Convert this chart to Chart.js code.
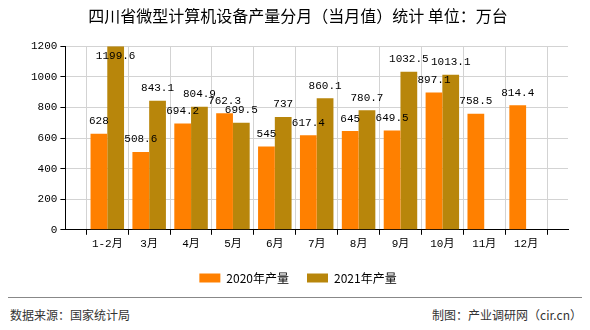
<!DOCTYPE html>
<html>
<head>
<meta charset="utf-8">
<script src="https://cdn.jsdelivr.net/npm/chart.js@4.4.0/dist/chart.umd.min.js"></script>
<style>
  body { margin: 0; background: #fff; }
  #wrap { width: 590px; height: 330px; position: relative; font-family: "Noto Sans CJK SC", sans-serif; }
  #box { width: 590px; height: 294px; }
  #foot { position: absolute; left: 8px; top: 297px; width: 574px; border-top: 1px solid #888; font-size: 12px; color: #333; }
  #foot span { position: absolute; top: 8px; }
</style>
</head>
<body>
<div id="wrap">
  <div id="box"><canvas id="chart"></canvas></div>
  <div id="foot"><span style="left:2px">数据来源：国家统计局</span><span style="right:0">制图：产业调研网（cir.cn）</span></div>
</div>
<script>
// months, padded with an empty slot on each side like the original axis
const months = ['', '1-2月', '3月', '4月', '5月', '6月', '7月', '8月', '9月', '10月', '11月', '12月', '']
const output2020 = [null, 628, 508.6, 694.2, 762.3, 545, 617.4, 645, 649.5, 897.1, 758.5, 814.4, null]
const output2021 = [null, 1199.6, 843.1, 804.9, 699.5, 737, 860.1, 780.7, 1032.5, 1013.1, null, null, null]
const yTicks = [0, 200, 400, 600, 800, 1000, 1200]

const monoFont = "'Liberation Mono', 'Noto Sans CJK SC', monospace"

// value labels above each bar
const barLabels = {
  id: 'barLabels',
  afterDatasetsDraw(chart) {
    const ctx = chart.ctx
    ctx.save()
    ctx.font = '11px ' + monoFont
    ctx.fillStyle = '#000'
    ctx.textAlign = 'center'
    chart.data.datasets.forEach((ds, i) => {
      chart.getDatasetMeta(i).data.forEach((bar, j) => {
        const v = ds.data[j]
        if (v === null) return
        if (bar.y < chart.chartArea.top + 16) {
          ctx.textBaseline = 'top'
          ctx.fillText(String(v), bar.x, bar.y + 4)
        } else {
          ctx.textBaseline = 'bottom'
          ctx.fillText(String(v), bar.x, bar.y - 7)
        }
      })
    })
    ctx.restore()
  }
}

const ctx = document.getElementById('chart').getContext('2d')
const chart = new Chart(ctx, {
  type: 'bar',
  data: {
    labels: months,
    datasets: [
      { label: '2020年产量', data: output2020, backgroundColor: '#FF8000' },
      { label: '2021年产量', data: output2021, backgroundColor: '#B8860B' },
    ],
  },
  options: {
    responsive: true,
    maintainAspectRatio: false,
    animation: false,
    datasets: { bar: { categoryPercentage: 0.8, barPercentage: 1.0 } },
    layout: { padding: { left: 28, right: 22, top: 0, bottom: 0 } },
    plugins: {
      title: {
        display: true,
        text: '四川省微型计算机设备产量分月（当月值）统计 单位：万台',
        color: '#000',
        font: { family: "'Noto Sans CJK SC', sans-serif", size: 16, weight: 'normal' },
        padding: { top: 6, bottom: 21 },
      },
      legend: {
        position: 'bottom',
        labels: {
          boxWidth: 21,
          boxHeight: 9,
          color: '#000',
          font: { family: "'Noto Sans CJK SC', sans-serif", size: 12 },
          padding: 18,
        },
      },
      tooltip: { enabled: false },
    },
    scales: {
      x: {
        offset: false,
        grid: { color: '#d3d3d3', tickColor: '#000', tickLength: 5 },
        border: { color: '#000', width: 1 },
        ticks: { color: '#000', font: { family: monoFont, size: 11 }, maxRotation: 0, autoSkip: false, padding: 3 },
      },
      y: {
        min: 0,
        max: 1200,
        afterBuildTicks: (axis) => { axis.ticks = yTicks.map(v => ({ value: v })) },
        grid: { color: '#d3d3d3', tickColor: '#000', tickLength: 5 },
        border: { color: '#000', width: 1 },
        ticks: { color: '#000', font: { family: monoFont, size: 11 }, padding: 3, callback: (v) => String(v) },
      },
    },
  },
  plugins: [barLabels],
})
</script>
</body>
</html>
